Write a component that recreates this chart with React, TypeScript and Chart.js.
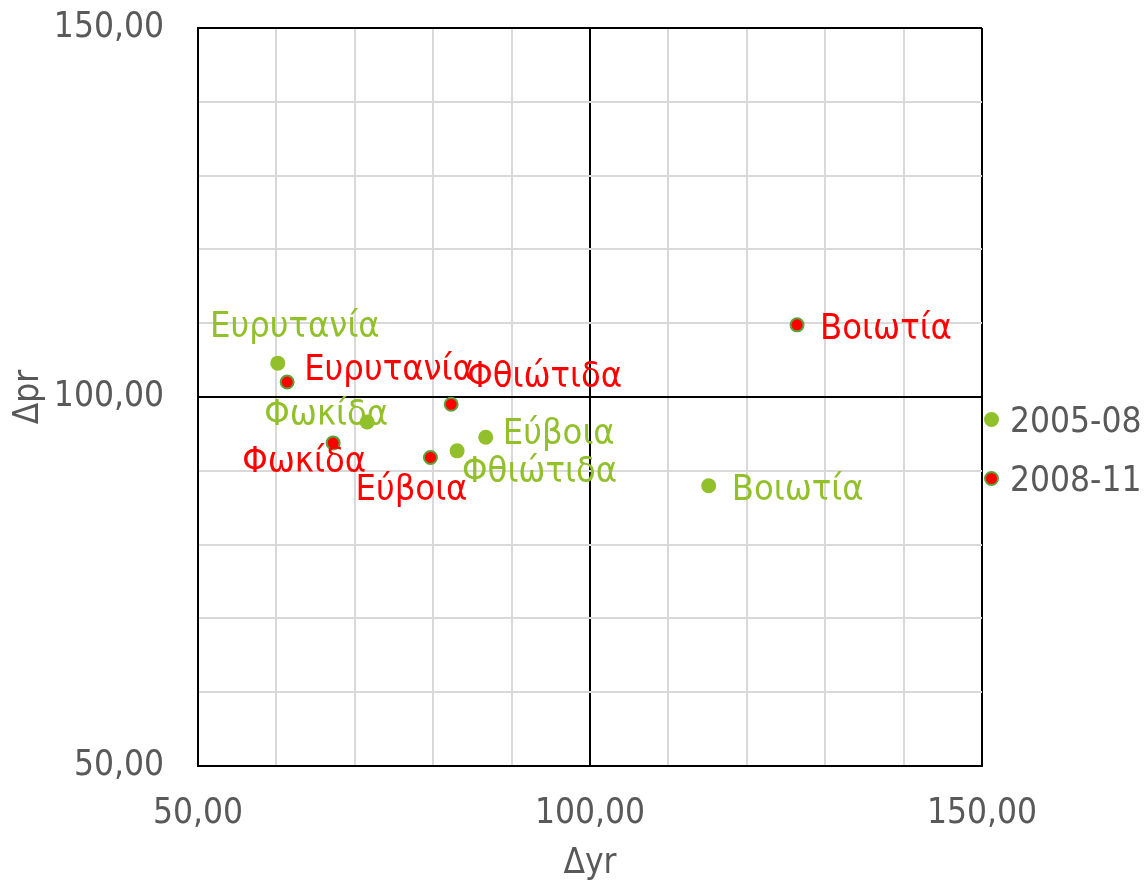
import React, { useEffect, useRef } from "react";
import { Chart, registerables } from "chart.js";

Chart.register(...registerables);

const provinces = ["Ευρυτανία", "Φωκίδα", "Φθιώτιδα", "Εύβοια", "Βοιωτία"];
const dyr2005 = [60.18, 71.58, 83.05, 86.7, 115.14];
const dpr2005 = [104.59, 96.62, 92.7, 94.55, 87.97];
const dyr2008 = [61.37, 67.24, 82.29, 79.65, 126.41];
const dpr2008 = [102.03, 93.78, 99.01, 91.81, 109.78];
const seriesNames = ["2005-08", "2008-11"];
const axisTickValues = [50, 100, 150];

// label placement (align, dx, dy relative to point; alphabetic baseline)
const labels2005 = [
  { align: "center", dx: 17, dy: -26 },
  { align: "center", dx: -41, dy: 3 },
  { align: "left", dx: 5, dy: 31 },
  { align: "left", dx: 17, dy: 7 },
  { align: "left", dx: 23, dy: 14 },
];
const labels2008 = [
  { align: "left", dx: 17, dy: -2 },
  { align: "center", dx: -29, dy: 29 },
  { align: "left", dx: 16, dy: -17 },
  { align: "center", dx: -19, dy: 43 },
  { align: "left", dx: 23, dy: 14 },
];

const GREEN = "#92C02A";
const RED = "#FF0000";
const RED_BORDER = "#5FA03A";
const TEXT = "#595959";
const FONT = "'DejaVu Sans Condensed', 'Noto Sans', sans-serif";

const fmt = (v: number) => v.toFixed(2).replace(".", ",");

const labelPlugin = {
  id: "pointLabels",
  afterDatasetsDraw(chart: any) {
    const ctx = chart.ctx;
    ctx.save();
    ctx.font = `36px ${FONT}`;
    ctx.textBaseline = "alphabetic";
    chart.data.datasets.forEach((ds: any, di: number) => {
      const meta = chart.getDatasetMeta(di);
      const specs = ds._labelSpecs;
      meta.data.forEach((pt: any, i: number) => {
        const s = specs[i];
        ctx.fillStyle = ds._labelColor;
        ctx.textAlign = s.align;
        ctx.fillText(provinces[i], pt.x + s.dx, pt.y + s.dy);
      });
    });
    ctx.restore();
  },
};

const legendPlugin = {
  id: "customLegend",
  afterDraw(chart: any) {
    const ctx = chart.ctx;
    const area = chart.chartArea;
    const cy = chart.height / 2;
    const items = [
      { name: seriesNames[0], fill: GREEN, stroke: GREEN, bw: 0, r: 7.5, y: cy - 23 },
      { name: seriesNames[1], fill: RED, stroke: RED_BORDER, bw: 2, r: 6.5, y: cy + 36 },
    ];
    ctx.save();
    ctx.font = `35px ${FONT}`;
    ctx.textBaseline = "alphabetic";
    ctx.textAlign = "left";
    items.forEach((it) => {
      const x = area.right + 9.5;
      ctx.beginPath();
      ctx.arc(x, it.y, it.r, 0, Math.PI * 2);
      ctx.fillStyle = it.fill;
      ctx.fill();
      if (it.bw > 0) {
        ctx.lineWidth = it.bw;
        ctx.strokeStyle = it.stroke;
        ctx.stroke();
      }
      ctx.fillStyle = TEXT;
      ctx.fillText(it.name, area.right + 28, it.y + 12);
    });
    ctx.restore();
  },
};

const gridColor = (c: any) =>
  axisTickValues.includes(c.tick?.value) ? "#000000" : "#D9D9D9";

export default function App() {
  const ref = useRef<HTMLCanvasElement | null>(null);

  useEffect(() => {
    document.body.style.margin = "0";
    const canvas = ref.current;
    if (!canvas) return;
    const chart = new Chart(canvas, {
      type: "scatter",
      data: {
        datasets: [
          {
            label: seriesNames[1],
            data: dyr2008.map((x, i) => ({ x, y: dpr2008[i] })),
            backgroundColor: RED,
            borderColor: RED_BORDER,
            borderWidth: 2,
            pointRadius: 6.5,
            _labelSpecs: labels2008,
            _labelColor: RED,
          } as any,
          {
            label: seriesNames[0],
            data: dyr2005.map((x, i) => ({ x, y: dpr2005[i] })),
            backgroundColor: GREEN,
            borderColor: GREEN,
            borderWidth: 0,
            pointRadius: 7.5,
            _labelSpecs: labels2005,
            _labelColor: GREEN,
          } as any,
        ],
      },
      options: {
        responsive: false,
        animation: false,
        layout: { padding: { top: 28, right: 163, left: 0, bottom: 0 } },
        plugins: { legend: { display: false }, tooltip: { enabled: false } },
        scales: {
          x: {
            type: "linear",
            position: "bottom",
            min: 50,
            max: 150,
            afterFit: (s: any) => {
              s.height = 119;
              s.paddingLeft = 0;
              s.paddingRight = 0;
              s.paddingTop = 0;
              s.paddingBottom = 0;
            },
            ticks: {
              stepSize: 10,
              autoSkip: false,
              maxRotation: 0,
              padding: 27,
              color: TEXT,
              font: { family: FONT, size: 35 },
              callback: (v: any) => (axisTickValues.includes(Number(v)) ? fmt(Number(v)) : ""),
            },
            grid: { color: gridColor, lineWidth: 2, drawTicks: false },
            border: { color: "#000000", width: 2 },
            title: {
              display: true,
              text: "Δyr",
              color: TEXT,
              font: { family: FONT, size: 35 },
              padding: { top: 0, bottom: 0 },
            },
          },
          y: {
            type: "linear",
            min: 50,
            max: 150,
            afterFit: (s: any) => {
              s.width = 198;
              s.paddingLeft = 0;
              s.paddingRight = 0;
              s.paddingTop = 0;
              s.paddingBottom = 0;
            },
            ticks: {
              stepSize: 10,
              autoSkip: false,
              padding: 34,
              color: TEXT,
              font: { family: FONT, size: 35 },
              callback: (v: any) => (axisTickValues.includes(Number(v)) ? fmt(Number(v)) : ""),
            },
            grid: { color: gridColor, lineWidth: 2, drawTicks: false },
            border: { color: "#000000", width: 2 },
            title: {
              display: true,
              text: "Δpr",
              color: TEXT,
              font: { family: FONT, size: 35 },
              padding: { top: 8, bottom: 0 },
            },
          },
        },
      } as any,
      plugins: [labelPlugin, legendPlugin],
    });
    return () => chart.destroy();
  }, []);

  return (
    <div style={{ width: 1145, height: 885 }}>
      <canvas ref={ref} width={1145} height={885} />
    </div>
  );
}
